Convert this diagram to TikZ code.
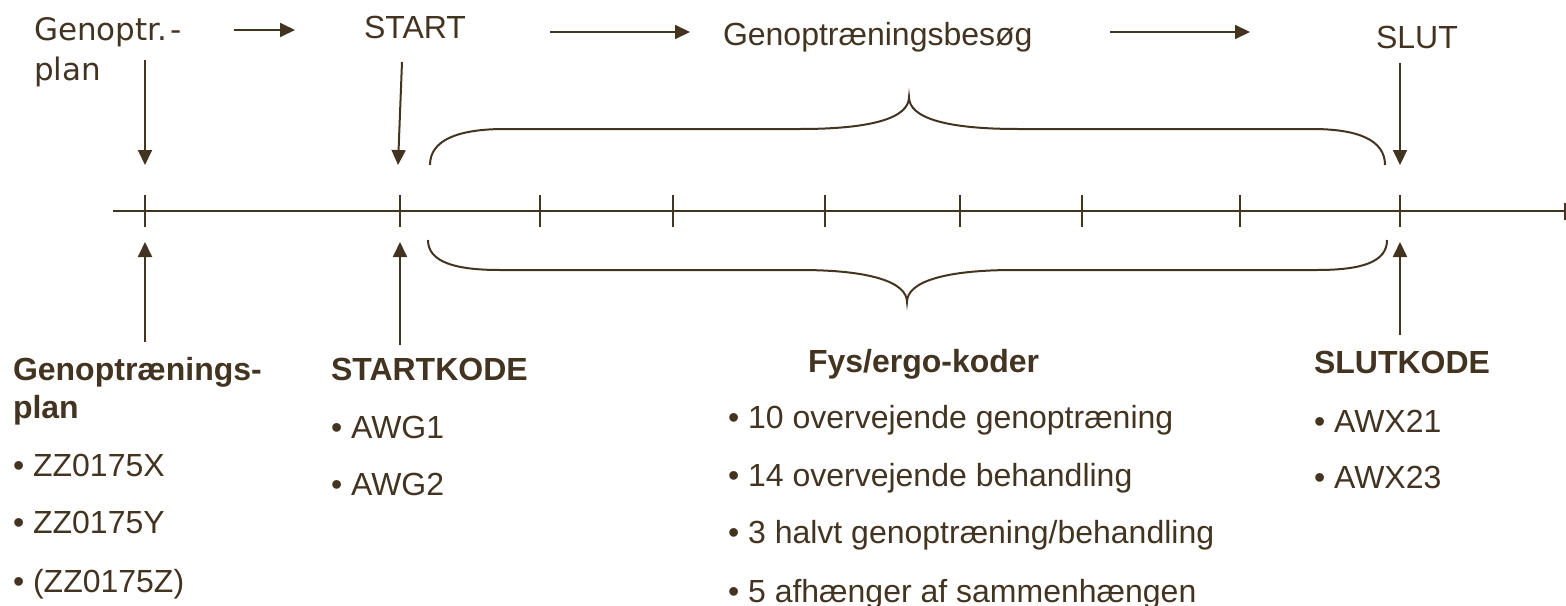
\documentclass[tikz,border=0pt]{standalone}
\usepackage{fontspec}
\setmainfont{Liberation Sans}
\newfontfamily\verd{DejaVu Sans}
\usetikzlibrary{arrows.meta}
\definecolor{ink}{RGB}{66,52,32}
\begin{document}
\begin{tikzpicture}[x=1pt,y=-1pt, line width=2pt, draw=ink,
  txt/.style={inner sep=0pt, anchor=base west, font=\fontsize{32}{38}\selectfont, text=ink},
  head/.style={txt, font=\fontsize{32}{38}\selectfont\bfseries},
  toptxt/.style={txt, font=\verd\fontsize{31}{37}\selectfont},
  arr/.style={draw=ink, -{Triangle[length=15pt,width=14pt]}, fill=ink},
  tickmark/.style={draw=ink, line width=2pt},
  bracepath/.style={draw=ink, line width=2pt}]
\useasboundingbox (0,0) rectangle (1566,605);
% top labels
\node[toptxt] (gp1) at (33,40) {Genoptr.\kern3pt-};
\node[toptxt] (gp2) at (33,80) {plan};
\node[txt] (start) at (363,38) {START};
\node[txt] (besog) at (722,45) {Genoptræningsbesøg};
\node[txt] (slut) at (1375,48) {SLUT};
% top arrows
\coordinate (a1s) at (234,30); \coordinate (a1e) at (295,30);
\coordinate (a2s) at (550,32); \coordinate (a2e) at (690,32);
\coordinate (a3s) at (1110,32); \coordinate (a3e) at (1250,32);
\draw[arr] (a1s) -- (a1e);
\draw[arr] (a2s) -- (a2e);
\draw[arr] (a3s) -- (a3e);
% down arrows
\coordinate (d1s) at (145,60); \coordinate (d1e) at (145,165);
\coordinate (d2s) at (402,62); \coordinate (d2e) at (398,165);
\coordinate (d3s) at (1400,63); \coordinate (d3e) at (1400,165);
\draw[arr] (d1s) -- (d1e);
\draw[arr] (d2s) -- (d2e);
\draw[arr] (d3s) -- (d3e);
% timeline
\coordinate (tl0) at (113,211); \coordinate (tl1) at (1566,211);
\draw[tickmark] (tl0) -- (tl1);
\draw[tickmark] (1565,203) -- (1565,220);
\foreach \x in {145,400,540,673,825,960,1082,1240,1400}
  \draw[tickmark] (\x,195) -- (\x,227);
% braces
\draw[bracepath] (430,165) .. controls (430,140) and (458,129) .. (505,129)
  -- (800,129) .. controls (872,129) and (909,118) .. (909,97)
  .. controls (909,118) and (946,129) .. (1018,129)
  -- (1312,129) .. controls (1358,129) and (1385,140) .. (1385,165);
\draw[bracepath] (428,240) .. controls (428,262) and (455,270) .. (500,270)
  -- (800,270) .. controls (870,270) and (907,282) .. (907,302)
  .. controls (907,282) and (944,270) .. (1014,270)
  -- (1317,270) .. controls (1362,270) and (1387,262) .. (1387,240);
% up arrows
\coordinate (u1s) at (145,342); \coordinate (u1e) at (145,242);
\coordinate (u2s) at (400,345); \coordinate (u2e) at (400,242);
\coordinate (u3s) at (1400,335); \coordinate (u3e) at (1400,242);
\draw[arr] (u1s) -- (u1e);
\draw[arr] (u2s) -- (u2e);
\draw[arr] (u3s) -- (u3e);
% bottom texts
\node[head] (h1a) at (12,380) {Genoptrænings-};
\node[head] (h1b) at (12,418) {plan};
\node[txt] (z1) at (12,476) {• ZZ0175X};
\node[txt] (z2) at (12,533) {• ZZ0175Y};
\node[txt] (z3) at (12,592) {• (ZZ0175Z)};
\node[head] (h2) at (330,380) {STARTKODE};
\node[txt] (g1) at (330,438) {• AWG1};
\node[txt] (g2) at (330,495) {• AWG2};
\node[head] (h3) at (807,372) {Fys/ergo-koder};
\node[txt] (f1) at (727,428) {• 10 overvejende genoptræning};
\node[txt] (f2) at (727,486) {• 14 overvejende behandling};
\node[txt] (f3) at (727,543) {• 3 halvt genoptræning/behandling};
\node[txt] (f4) at (727,602) {• 5 afhænger af sammenhængen};
\node[head] (h4) at (1313,373) {SLUTKODE};
\node[txt] (x1) at (1313,432) {• AWX21};
\node[txt] (x2) at (1313,488) {• AWX23};
\end{tikzpicture}
\end{document}
